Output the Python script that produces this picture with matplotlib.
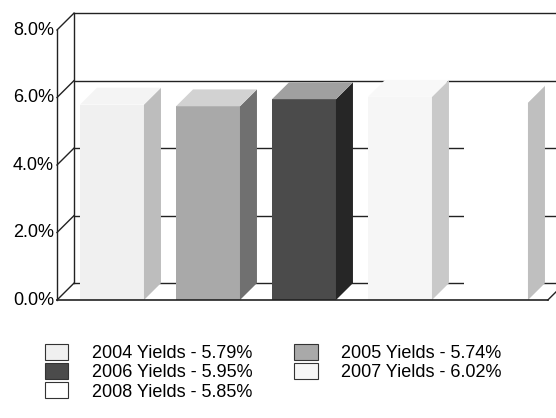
import matplotlib.pyplot as plt
from matplotlib.patches import Polygon, Patch

plt.rcParams['font.family'] = ['Liberation Sans', 'DejaVu Sans']

# data
years = ['2004', '2005', '2006', '2007', '2008']
yields = [5.79, 5.74, 5.95, 6.02, 5.85]
yticks = [0, 2, 4, 6, 8]
front_cols = ['#f0f0f0', '#a9a9a9', '#4b4b4b', '#f6f6f6', '#ffffff']
side_cols = ['#bdbdbd', '#707070', '#262626', '#c9c9c9', '#bfbfbf']
top_cols = ['#f4f4f4', '#d2d2d2', '#a0a0a0', '#f8f8f8', '#ffffff']

fig = plt.figure(figsize=(5.56, 4.18), dpi=100)
ax = fig.add_axes([0, 0, 1, 1])
ax.set_xlim(-1.1667, 4.625)
ax.set_ylim(-3.496, 8.889)
ax.axis('off')

w = 0.333      # half width of front face
dx, dy = 0.177, 0.5   # depth offset
x_left = -0.573
x_right = 4.54

# back wall gridlines + left wall
for t in yticks:
    ax.plot([x_left + dx, 5.0], [t + dy, t + dy], color='#222222', lw=1.0, zorder=1)
    ax.plot([x_left, x_left + dx], [t, t + dy], color='#222222', lw=1.0, zorder=1)
    ax.text(x_left - 0.03, t, '%.1f%%' % t, ha='right', va='center', fontsize=13)
ax.plot([x_left, x_left], [0, 8], color='#222222', lw=1.0, zorder=1)
ax.plot([x_left + dx, x_left + dx], [dy, 8 + dy], color='#222222', lw=1.0, zorder=1)
# floor front edge
ax.plot([x_left, x_right], [0, 0], color='#222222', lw=1.2, zorder=5)
ax.plot([x_right, x_right + dx], [0, dy], color='#222222', lw=1.0, zorder=5)

# bars (front, side, top)
for i, v in enumerate(yields):
    ax.bar(i, v, width=2 * w, color=front_cols[i], linewidth=0, zorder=3)
    side = [(i + w, 0), (i + w + dx, dy), (i + w + dx, v + dy), (i + w, v)]
    top = [(i - w, v), (i + w, v), (i + w + dx, v + dy), (i - w + dx, v + dy)]
    ax.add_patch(Polygon(side, closed=True, facecolor=side_cols[i],
                         edgecolor='none', zorder=3))
    ax.add_patch(Polygon(top, closed=True, facecolor=top_cols[i],
                         edgecolor='none', zorder=3))

# legend
handles = [Patch(facecolor=front_cols[i], edgecolor='#333333', linewidth=0.8,
                 label='%s Yields - %.2f%%' % (years[i], yields[i]))
           for i in [0, 2, 4, 1, 3]]
fig.legend(handles=handles, loc='upper left', ncol=2, frameon=False,
           bbox_to_anchor=(45 / 556, 1 - 344 / 418), fontsize=13,
           borderpad=0, borderaxespad=0, labelspacing=0.05,
           handlelength=1.3, handleheight=1.0, handletextpad=1.3,
           columnspacing=2.3)

fig.savefig('out.png', dpi=100)
